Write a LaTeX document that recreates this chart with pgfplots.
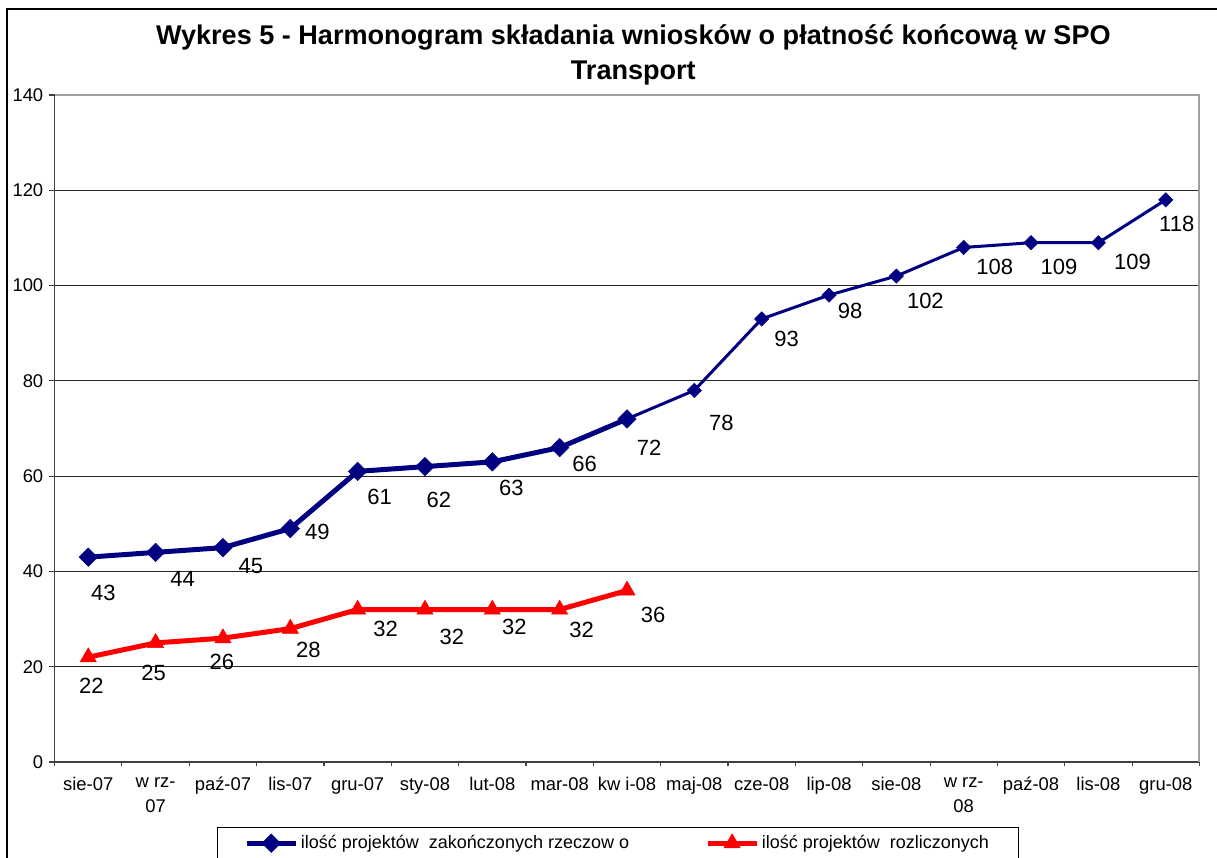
\documentclass[border=0pt]{standalone}
\usepackage{fontspec}
\setmainfont{Liberation Sans}
\usepackage{pgfplots}
\pgfplotsset{compat=1.18}
\definecolor{navyb}{RGB}{0,0,128}
\definecolor{redr}{RGB}{255,0,0}

\begin{document}
\begin{tikzpicture}
\draw[black, line width=0.9pt] (5.25pt,-6.75pt) rectangle (940pt,-700pt);
\node[align=center, font=\fontsize{20.3}{26}\selectfont\bfseries] at (475pt,-41pt)
  {Wykres 5 - Harmonogram składania wniosków o płatność końcową w SPO\\Transport};
\begin{axis}[
  at={(40.95pt,-571.5pt)}, anchor=south west,
  scale only axis, width=858.6pt, height=500.25pt,
  xmin=-0.5, xmax=16.5, ymin=0, ymax=140,
  axis x line*=bottom, axis y line*=left,
  axis line style={draw=black!75, line width=1.1pt},
  xtick={0,...,16},
  xticklabels={sie-07, {w rz-\\07}, paź-07, lis-07, gru-07, sty-08, lut-08, mar-08, {kw i-08}, maj-08, cze-08, lip-08, sie-08, {w rz-\\08}, paź-08, lis-08, gru-08},
  minor xtick={-0.5,0.5,...,16.5},
  ytick={0,20,...,140},
  tick align=outside,
  major tick length=4pt, minor tick length=3pt,
  every major x tick/.append style={draw=none},
  tick style={black!75, line width=0.8pt},
  ymajorgrids, grid style={black!85, line width=0.75pt},
  /pgf/number format/assume math mode=true,
  xticklabel style={font=\fontsize{13.8}{18.75}\selectfont, align=center, yshift=-4pt},
  yticklabel style={font=\fontsize{13.8}{16}\selectfont, xshift=-1pt},
  legend columns=2,
  legend cell align=left,
  legend style={at={(0.1419,-0.0975)}, anchor=north west, draw=black, line width=0.75pt,
    fill=white, font=\fontsize{13.5}{16}\selectfont, inner xsep=20pt, inner ysep=4pt,
    /tikz/every even column/.append style={column sep=55pt}},
  legend image code/.code={\draw[mark repeat=2,mark phase=2,#1] plot coordinates {(0pt,0pt) (18.4pt,0pt) (36.8pt,0pt)};},
  after end axis/.code={\draw[gray!75, line width=1.5pt] (rel axis cs:0,1) -- (rel axis cs:1,1) -- (rel axis cs:1,0);},
  clip=false,
]
% thick blue part
\addplot[color=navyb, line width=3.75pt, mark=square*, mark size=4.9pt,
  mark options={rotate=45, line width=0.4pt, solid},
  nodes near coords, point meta=explicit symbolic,
  visualization depends on={value \thisrow{dx}\as\dx},
  visualization depends on={value \thisrow{dy}\as\dy},
  every node near coord/.append style={font=\fontsize{16.5}{19}\selectfont, text=black, anchor=center, xshift=\dx*0.75pt, yshift=-\dy*0.75pt}]
table[x=x, y=y, meta=lab] {
x y dx dy lab
0 43 15 36 43
1 44 27 27 44
2 45 28 18 45
3 49 27 3 49
4 61 22 26 61
5 62 14 33 62
6 63 19 26 63
7 66 25 16 66
8 72 22 29 72
};
\addlegendentry{ilość projektów\ \ zakończonych rzeczow o}
% red
\addplot[color=redr, line width=3.75pt, mark=triangle*, mark size=7pt,
  mark options={line width=0.4pt, solid},
  nodes near coords, point meta=explicit symbolic,
  visualization depends on={value \thisrow{dx}\as\dx},
  visualization depends on={value \thisrow{dy}\as\dy},
  every node near coord/.append style={font=\fontsize{16.5}{19}\selectfont, text=black, anchor=center, xshift=\dx*0.75pt, yshift=-\dy*0.75pt}]
table[x=x, y=y, meta=lab] {
x y dx dy lab
0 22 3 29 22
1 25 -2 30 25
2 26 -1 24 26
3 28 18 21 28
4 32 28 19 32
5 32 27 27 32
6 32 22 17 32
7 32 22 20 32
8 36 26 24 36
};
\addlegendentry{ilość projektów\ \ rozliczonych}
% thin blue part
\addplot[forget plot, color=navyb, line width=2.25pt, mark=square*, mark size=3.8pt,
  mark options={rotate=45, line width=0.4pt, solid},
  nodes near coords, point meta=explicit symbolic,
  visualization depends on={value \thisrow{dx}\as\dx},
  visualization depends on={value \thisrow{dy}\as\dy},
  every node near coord/.append style={font=\fontsize{16.5}{19}\selectfont, text=black, anchor=center, xshift=\dx*0.75pt, yshift=-\dy*0.75pt}]
table[x=x, y=y, meta=lab] {
x y dx dy lab
8 72 0 0 {}
9 78 27 33 78
10 93 25 20 93
11 98 21 16 98
12 102 29 25 102
13 108 31 19 108
14 109 28 24 109
15 109 34 19 109
16 118 11 24 118
};
\end{axis}
\pgfresetboundingbox
\useasboundingbox (0pt,0pt) rectangle (912.75pt,-642.75pt);
\end{tikzpicture}
\end{document}
